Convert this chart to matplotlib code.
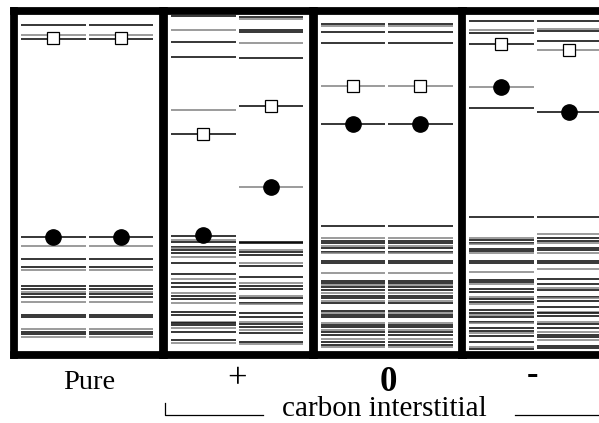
import matplotlib
matplotlib.use("Agg")
import matplotlib.pyplot as plt
from matplotlib.lines import Line2D

plt.rcParams['font.family'] = ['Liberation Serif', 'DejaVu Serif']

pure = [25, 35, 39, 237, 246, 259, 267, 270, 286, 289, 292, 294, 297, 302,
        315, 317, 329, 332, 334, 337]
plus_a = [16, 30, 42, 57, 110, 134, 236, 240, 242, 247, 248, 250, 253, 257,
          263, 274, 279, 283, 287, 293, 296, 299, 303, 312, 315, 322, 323,
          325, 328, 332, 340, 343]
plus_b = [17, 19, 30, 32, 43, 58, 106, 187, 242, 243, 250, 252, 255, 263,
          266, 277, 283, 286, 289, 296, 298, 303, 304, 313, 317, 322, 324,
          327, 330, 333, 342, 344]
zero = [24, 26, 32, 43, 86, 124, 226, 238, 241, 243, 246, 248, 252, 253,
        261, 263, 273, 281, 283, 285, 287, 290, 293, 296, 298, 301, 303, 311,
        313, 315, 317, 323, 325, 327, 330, 332, 335, 339, 342, 345, 347]
minus_a = [21, 30, 33, 44, 87, 108, 217, 238, 240, 243, 244, 249, 251, 253,
           261, 263, 272, 280, 282, 284, 289, 292, 297, 299, 302, 304, 310,
           313, 315, 317, 322, 323, 328, 331, 333, 336, 342, 347, 349]
minus_b = [21, 29, 31, 41, 50, 112, 217, 234, 238, 241, 243, 248, 250, 253,
           261, 263, 269, 279, 284, 288, 290, 297, 298, 301, 307, 312, 313,
           316, 322, 324, 328, 332, 335, 337, 340, 346, 348]

# (left column, right column) levels per panel
panels = [(pure, pure), (plus_a, plus_b), (zero, zero), (minus_a, minus_b)]
# marked states: open square and filled dot, per column
squares = [(38, 38), (134, 106), (86, 86), (44, 50)]
dots = [(237, 237), (235, 187), (124, 124), (87, 112)]
labels = ["Pure", "+", "0", "-"]

fig = plt.figure(figsize=(5.99, 4.23), dpi=100)

W, H = 599.0, 423.0
lefts = [14, 164, 313.5, 462]
cols = [(0.095, 0.96), (1.0, 1.87)]

for i, (left, levels) in enumerate(zip(lefts, panels)):
    ax = fig.add_axes([left / W, (H - 355) / H, 149 / W, 344 / H])
    for c, lv in enumerate(levels):
        x0, x1 = cols[c]
        for k, e in enumerate(lv):
            color = '#808080' if k % 3 == 1 else 'black'
            ax.plot([x0, x1], [e, e], color=color, lw=1.1, solid_capstyle='butt')
        xm = (x0 + x1) / 2
        ax.plot(xm, squares[i][c], marker='s', ms=8, mfc='white', mec='black',
                mew=0.9, zorder=5)
        ax.plot(xm, dots[i][c], marker='o', ms=11, color='black', zorder=5)
    ax.set_xlim(0, 2)
    ax.set_ylim(355, 11)
    ax.set_xticks([])
    ax.set_yticks([])
    for s in ax.spines.values():
        s.set_linewidth(5.6)
        s.set_color('black')

fig.text(89 / W, 1 - 389 / H, labels[0], ha='center', va='baseline', fontsize=20.5)
fig.text(237 / W, 1 - 388 / H, labels[1], ha='center', va='baseline', fontsize=25)
fig.text(388 / W, 1 - 391 / H, labels[2], ha='center', va='baseline', fontsize=25,
         fontweight='bold')
fig.text(532 / W, 1 - 375.5 / H, labels[3], ha='center', va='center', fontsize=25,
         fontweight='bold')
fig.text(384.5 / W, 1 - 416 / H, "carbon interstitial", ha='center',
         va='baseline', fontsize=21)

# bracket under the three carbon panels
yb = 1 - 414.5 / H
fig.add_artist(Line2D([165 / W, 165 / W, 263 / W], [1 - 403 / H, yb, yb],
                      color='black', lw=0.9, transform=fig.transFigure))
fig.add_artist(Line2D([515 / W, 1.0], [yb, yb], color='black', lw=0.9,
                      transform=fig.transFigure))

fig.savefig("out.png", dpi=100)
